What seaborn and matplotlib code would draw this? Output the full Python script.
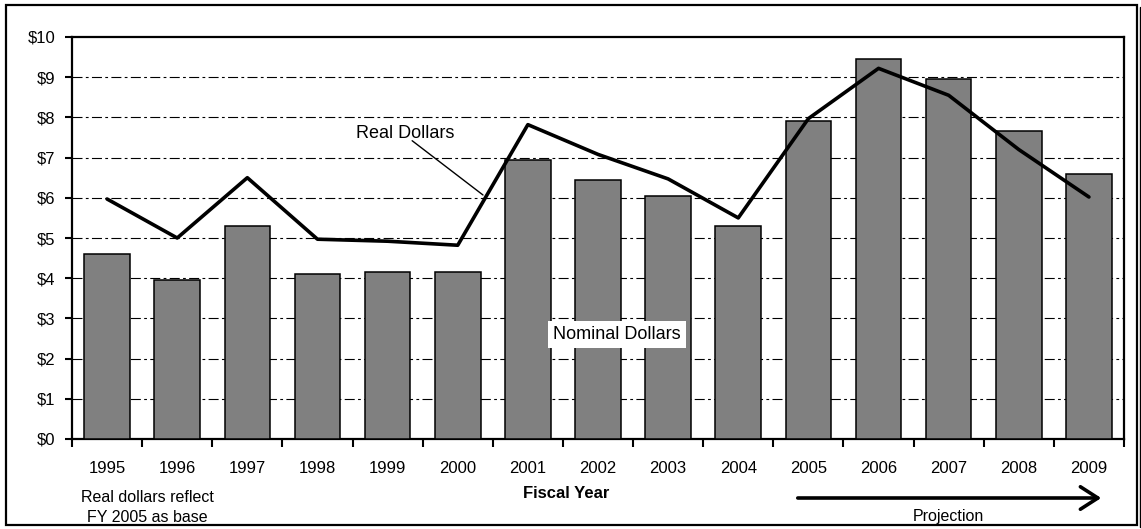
import numpy as np
import pandas as pd
import matplotlib
matplotlib.use("Agg")
import matplotlib.pyplot as plt
import seaborn as sns
from matplotlib.patches import Rectangle, FancyArrowPatch
from matplotlib.lines import Line2D

years = ["1995", "1996", "1997", "1998", "1999", "2000", "2001", "2002",
         "2003", "2004", "2005", "2006", "2007", "2008", "2009"]
nominal = [4.6, 3.95, 5.3, 4.1, 4.15, 4.15, 6.95, 6.45, 6.05, 5.3,
           7.9, 9.45, 8.95, 7.65, 6.6]
real = [5.97, 5.0, 6.5, 4.97, 4.92, 4.82, 7.82, 7.08, 6.47, 5.5,
        7.97, 9.22, 8.55, 7.2, 6.02]
yticks = list(range(0, 11))
ytick_labels = [f"${v}" for v in yticks]

df = pd.DataFrame({"year": years, "nominal": nominal, "real": real,
                   "pos": np.arange(len(years))})

sns.set_theme(style="white")
plt.rcParams["font.family"] = ["Liberation Sans", "DejaVu Sans"]

W, H = 1141, 529
fig = plt.figure(figsize=(W / 100, H / 100), dpi=100)
ax = fig.add_axes([72 / W, 1 - 439 / H, (1124 - 72) / W, (439 - 37) / H])

sns.barplot(data=df, x="year", y="nominal", color="#808080", saturation=1,
            edgecolor="black", linewidth=1.1, width=0.65, ax=ax, zorder=3)
sns.lineplot(data=df, x="pos", y="real", color="black", linewidth=2.6,
             ax=ax, zorder=4)

ax.set_xlim(-0.5, len(years) - 0.5)
ax.set_ylim(0, 10)
ax.set_yticks(yticks)
ax.set_yticklabels(ytick_labels)
ax.set_xticks(np.arange(len(years)))
ax.set_xticklabels(years)
ax.set_xticks(np.arange(-0.5, len(years)), minor=True)
ax.set_xlabel("")
ax.set_ylabel("")

for y in yticks[1:-1]:
    ax.axhline(y, color="black", linewidth=0.8,
               linestyle=(0, (9, 3, 2.5, 3)), zorder=1)

for s in ax.spines.values():
    s.set_visible(True)
    s.set_color("black")
    s.set_linewidth(1.6)

ax.tick_params(axis="y", which="major", direction="out", length=5, width=1.5,
               color="black", left=True, labelsize=12, pad=7,
               labelcolor="black")
ax.tick_params(axis="x", which="major", length=0, pad=16, labelsize=12,
               labelcolor="black")
ax.tick_params(axis="x", which="minor", direction="out", length=6, width=1.5,
               color="black", bottom=True)

# Annotations
ax.text(4.25, 7.6, "Real Dollars", ha="center", va="center", fontsize=13,
        color="black", zorder=6)
ax.plot([4.35, 5.36], [7.42, 6.07], color="black", linewidth=1.0, zorder=5)
ax.text(7.27, 2.6, "Nominal Dollars", ha="center", va="center",
        fontsize=13, color="black", zorder=6,
        bbox=dict(boxstyle="square,pad=0.3", facecolor="white",
                  edgecolor="none"))

# Figure-level texts
def fx(px):
    return px / W

def fy(py):
    return 1 - py / H

fig.text(fx(566), fy(493), "Fiscal Year", ha="center", va="center",
         fontsize=12, fontweight="bold", color="black")
fig.text(fx(147), fy(498), "Real dollars reflect", ha="center", va="center",
         fontsize=11.5, color="black")
fig.text(fx(147), fy(517), "FY 2005 as base", ha="center", va="center",
         fontsize=11.5, color="black")
fig.text(fx(948), fy(516), "Projection", ha="center", va="center",
         fontsize=11.5, color="black")

arrow = FancyArrowPatch((fx(795), fy(498)), (fx(1104), fy(498)),
                        transform=fig.transFigure,
                        arrowstyle="->,head_length=0.7,head_width=0.45",
                        mutation_scale=18, linewidth=2.6, color="black")
fig.patches.append(arrow)

# Outer frame
fig.patches.append(Rectangle((fx(6), fy(525)), fx(1137) - fx(6),
                             fy(5) - fy(525), transform=fig.transFigure,
                             fill=False, edgecolor="black", linewidth=1.6))
fig.lines.append(Line2D([fx(1140), fx(1140)], [fy(7), fy(527)],
                        transform=fig.transFigure, color="black",
                        linewidth=1.0))

fig.savefig("out.png", dpi=100)
